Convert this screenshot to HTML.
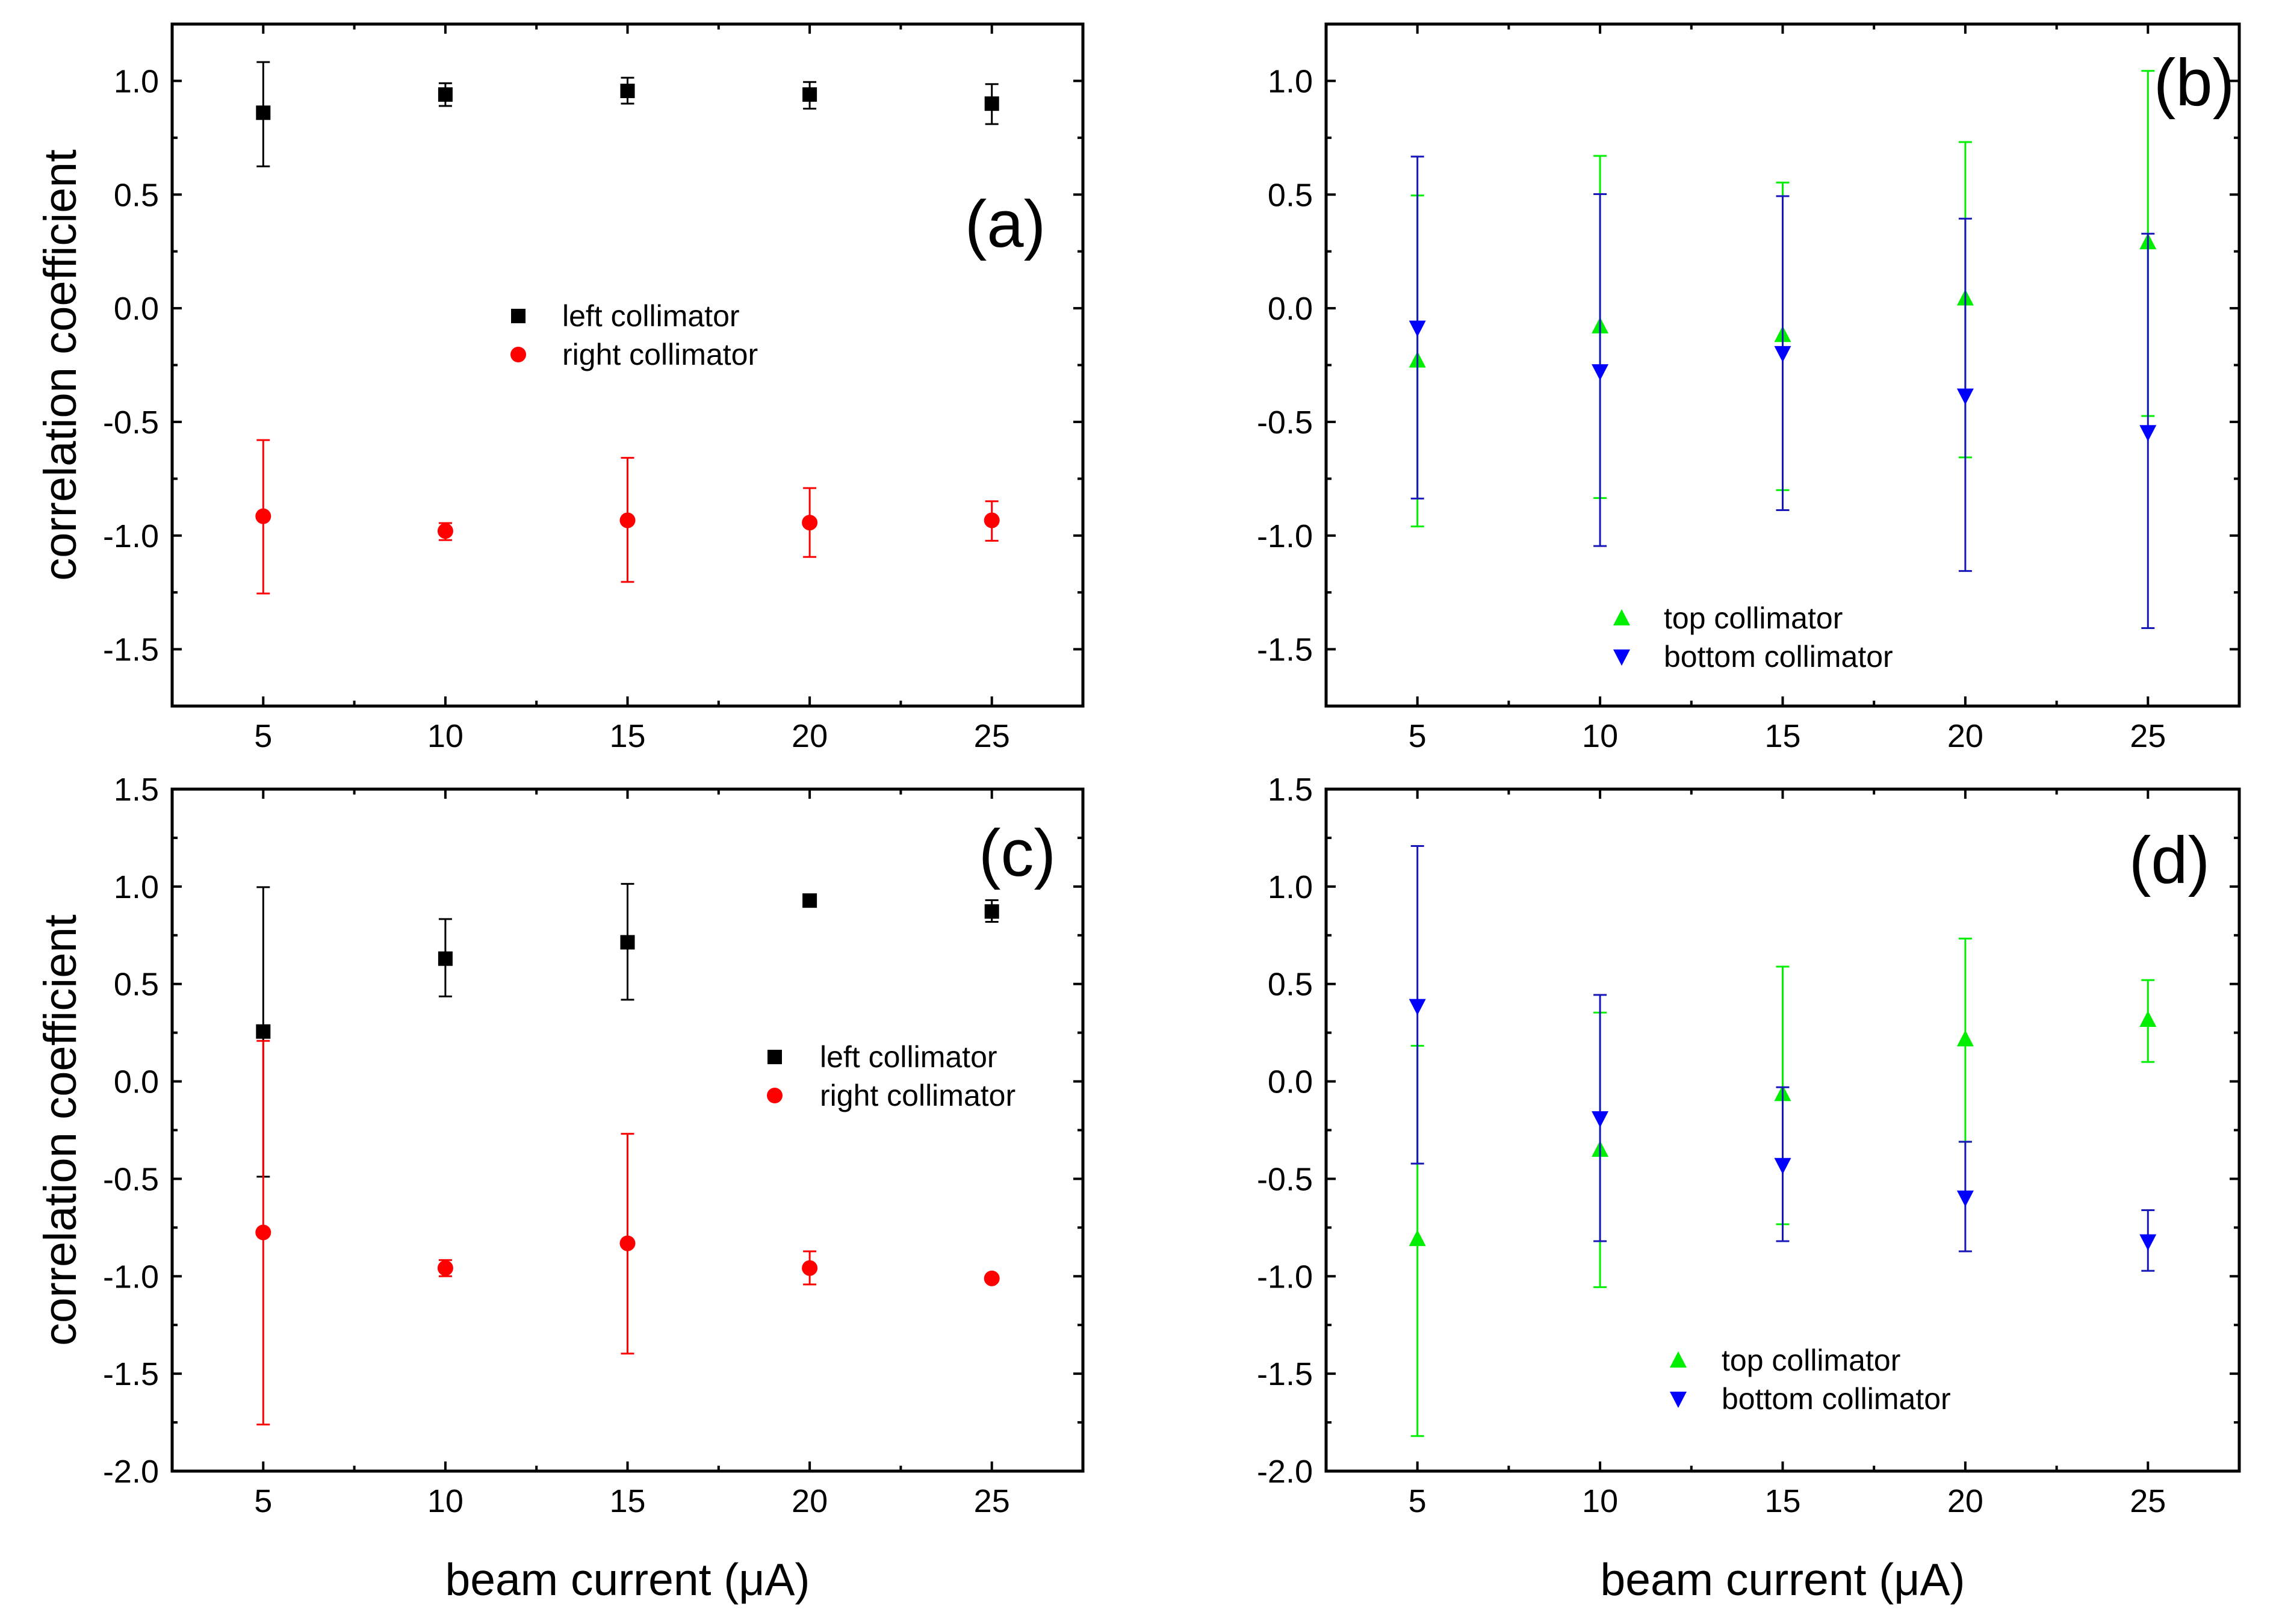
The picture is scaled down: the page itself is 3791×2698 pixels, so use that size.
<!DOCTYPE html>
<html><head><meta charset="utf-8"><style>
html,body{margin:0;padding:0;background:#fff}
svg{display:block}
text{font-family:"Liberation Sans",Arial,sans-serif}
</style></head><body>
<svg id="fig" width="3791" height="2698" viewBox="0 0 3791 2698" xmlns="http://www.w3.org/2000/svg"></svg>
<script>
const categories=[5,10,15,20,25];
// panel a
const aLeft=[0.86,0.94,0.956,0.94,0.90];
const aLeftHi=[1.083,0.99,1.014,0.995,0.986];
const aLeftLo=[0.624,0.89,0.90,0.878,0.81];
const aRight=[-0.915,-0.98,-0.933,-0.943,-0.933];
const aRightHi=[-0.58,-0.945,-0.658,-0.791,-0.849];
const aRightLo=[-1.255,-1.02,-1.204,-1.094,-1.023];
// panel b
const bTop=[-0.229,-0.079,-0.117,0.044,0.291];
const bTopHi=[0.496,0.67,0.553,0.731,1.044];
const bTopLo=[-0.96,-0.835,-0.80,-0.656,-0.474];
const bBot=[-0.086,-0.278,-0.198,-0.385,-0.546];
const bBotHi=[0.667,0.502,0.493,0.394,0.328];
const bBotLo=[-0.837,-1.046,-0.888,-1.156,-1.407];
// panel c
const cLeft=[0.256,0.63,0.714,0.928,0.872];
const cLeftHi=[0.997,0.833,1.014,0.955,0.93];
const cLeftLo=[-0.489,0.436,0.419,0.897,0.819];
const cRight=[-0.775,-0.958,-0.831,-0.958,-1.011];
const cRightHi=[0.208,-0.917,-0.269,-0.872,-1.0];
const cRightLo=[-1.761,-1.0,-1.397,-1.042,-1.02];
// panel d
const dTop=[-0.808,-0.35,-0.064,0.217,0.317];
const dTopHi=[0.183,0.353,0.589,0.733,0.52];
const dTopLo=[-1.82,-1.056,-0.733,-0.31,0.1];
const dBot=[0.386,-0.19,-0.43,-0.597,-0.822];
const dBotHi=[1.208,0.444,-0.03,-0.31,-0.661];
const dBotLo=[-0.422,-0.82,-0.82,-0.872,-0.972];
const yTicksAB=["-1.5","-1.0","-0.5","0.0","0.5","1.0"];
const yTicksCD=["-2.0","-1.5","-1.0","-0.5","0.0","0.5","1.0","1.5"];
const xTickLabels=["5","10","15","20","25"];

const NS="http://www.w3.org/2000/svg";
const svg=document.getElementById('fig');
function mk(tag,attrs,parent,text){const e=document.createElementNS(NS,tag);for(const k in attrs)e.setAttribute(k,attrs[k]);if(text!==undefined)e.textContent=text;(parent||svg).appendChild(e);return e;}

function panel(id,L,R,T,B,ymin,ymax,yTicks,minorStart,series,label,labelPos,legend,showYTitle,showXTitle){
  const g=mk('g',{});
  
  
  const xs=v=>L+(v-2.5)/25*(R-L);
  const ys=v=>B-(v-ymin)/(ymax-ymin)*(B-T);
  for(let v=5;v<=25;v+=2.5){
    const maj=(v%5===0), len=maj?16:9;
    mk('line',{x1:xs(v),x2:xs(v),y1:B,y2:B-len,stroke:'#000','stroke-width':4},g);
    mk('line',{x1:xs(v),x2:xs(v),y1:T,y2:T+len,stroke:'#000','stroke-width':4},g);
  }
  for(let v=minorStart;v<ymax;v+=0.25){
    const maj=Math.abs(Math.round(v*2)-v*2)<1e-6, len=maj?16:9;
    mk('line',{x1:L,x2:L+len,y1:ys(v),y2:ys(v),stroke:'#000','stroke-width':4},g);
    mk('line',{x1:R,x2:R-len,y1:ys(v),y2:ys(v),stroke:'#000','stroke-width':4},g);
  }
  yTicks.forEach(t=>{
    const tl=mk('text',{x:L-22,y:ys(parseFloat(t))+19,'text-anchor':'end','font-size':54,fill:'#000'},g,t);
    
    
  });
  xTickLabels.forEach((t,i)=>{
    const tl=mk('text',{x:xs(categories[i]),y:B+68,'text-anchor':'middle','font-size':54,fill:'#000'},g,t);
    
    
  });
  series.forEach(s=>{
    const sg=mk('g',{},g);
    
    
    categories.forEach((c,i)=>{
      const x=xs(c);
      mk('line',{x1:x,x2:x,y1:ys(s.hi[i]),y2:ys(s.lo[i]),stroke:s.ebar,'stroke-width':3},sg);
      mk('line',{x1:x-11,x2:x+11,y1:ys(s.hi[i]),y2:ys(s.hi[i]),stroke:s.ebar,'stroke-width':3},sg);
      mk('line',{x1:x-11,x2:x+11,y1:ys(s.lo[i]),y2:ys(s.lo[i]),stroke:s.ebar,'stroke-width':3},sg);
      const m=marker(s.shape,x,ys(s.val[i]),s.color,sg);
      
      
    });
  });
  mk('rect',{x:L,y:T,width:R-L,height:B-T,fill:'none',stroke:'#000','stroke-width':5},g);
  const pl=mk('text',{x:labelPos[0],y:labelPos[1],'text-anchor':'middle','font-size':110,fill:'#000'},g,label);
  
  
  const lg=mk('g',{},g);
  
  
  legend.items.forEach((it,k)=>{
    const y=legend.y+k*legend.dy;
    marker(it.shape,legend.x,y,it.color,lg);
    const t=mk('text',{x:legend.tx,y:y+17,'font-size':50,fill:'#000'},lg,it.text);
    
    
  });
  if(showYTitle){
    const cy=(T+B)/2;
    const yt=mk('text',{x:100,y:cy,'text-anchor':'middle','font-size':76,fill:'#000',transform:`rotate(-90 100 ${cy})`,dy:26},g,'correlation coefficient');
    
    
  }
  if(showXTitle){
    const xt=mk('text',{x:(L+R)/2,y:2650,'text-anchor':'middle','font-size':75,fill:'#000'},g,'beam current (\u03bcA)');
    
    
  }
}
function marker(shape,x,y,color,p){
  if(shape==='sq') return mk('rect',{x:x-12,y:y-12,width:24,height:24,fill:color},p);
  if(shape==='ci') return mk('circle',{cx:x,cy:y,r:13,fill:color},p);
  if(shape==='up') return mk('polygon',{points:`${x},${y-15} ${x-14},${y+12} ${x+14},${y+12}`,fill:color},p);
  return mk('polygon',{points:`${x},${y+15} ${x-14},${y-12} ${x+14},${y-12}`,fill:color},p);
}
const BLK='#000',RED='#ff0000',GRN='#00ee00',BLU='#0000ff',BLUE_E='#1818b8';
panel('a',286,1799,40,1173,-1.75,1.25,yTicksAB,-1.5,[
  {name:'left-collimator',val:aLeft,hi:aLeftHi,lo:aLeftLo,shape:'sq',color:BLK,ebar:BLK},
  {name:'right-collimator',val:aRight,hi:aRightHi,lo:aRightLo,shape:'ci',color:RED,ebar:RED}],
  '(a)',[1670,410],{x:861,tx:934,y:525,dy:64,items:[{shape:'sq',color:BLK,text:'left collimator'},{shape:'ci',color:RED,text:'right collimator'}]},true,false);
panel('b',2203,3720,40,1173,-1.75,1.25,yTicksAB,-1.5,[
  {name:'top-collimator',val:bTop,hi:bTopHi,lo:bTopLo,shape:'up',color:GRN,ebar:GRN},
  {name:'bottom-collimator',val:bBot,hi:bBotHi,lo:bBotLo,shape:'dn',color:BLU,ebar:BLUE_E}],
  '(b)',[3645,175],{x:2694,tx:2764,y:1027,dy:64,items:[{shape:'up',color:GRN,text:'top collimator'},{shape:'dn',color:BLU,text:'bottom collimator'}]},false,false);
panel('c',286,1799,1311,2444,-2,1.5,yTicksCD,-1.75,[
  {name:'left-collimator',val:cLeft,hi:cLeftHi,lo:cLeftLo,shape:'sq',color:BLK,ebar:BLK},
  {name:'right-collimator',val:cRight,hi:cRightHi,lo:cRightLo,shape:'ci',color:RED,ebar:RED}],
  '(c)',[1690,1455],{x:1287,tx:1362,y:1756,dy:64,items:[{shape:'sq',color:BLK,text:'left collimator'},{shape:'ci',color:RED,text:'right collimator'}]},true,true);
panel('d',2203,3720,1311,2444,-2,1.5,yTicksCD,-1.75,[
  {name:'top-collimator',val:dTop,hi:dTopHi,lo:dTopLo,shape:'up',color:GRN,ebar:GRN},
  {name:'bottom-collimator',val:dBot,hi:dBotHi,lo:dBotLo,shape:'dn',color:BLU,ebar:BLUE_E}],
  '(d)',[3604,1467],{x:2788,tx:2860,y:2260,dy:64,items:[{shape:'up',color:GRN,text:'top collimator'},{shape:'dn',color:BLU,text:'bottom collimator'}]},false,true);
</script>
</body></html>
